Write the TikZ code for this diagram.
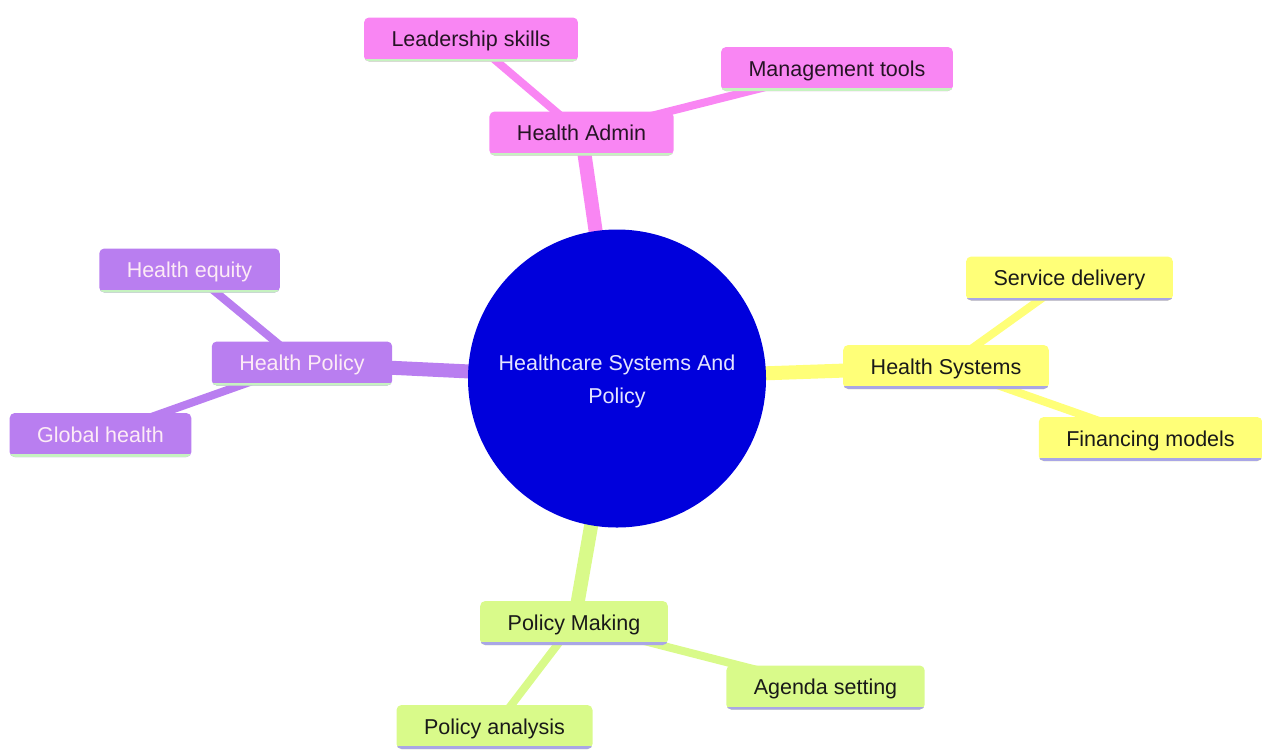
\documentclass[tikz,border=0pt]{standalone}
\usepackage{fontspec}
\setmainfont{Liberation Sans}
\usetikzlibrary{backgrounds}

\definecolor{rootblue}{HTML}{0000DC}
\definecolor{roottext}{HTML}{E4E4FF}
\definecolor{adminpink}{HTML}{F986F3}
\definecolor{policypurple}{HTML}{B97EF0}
\definecolor{systemsyellow}{HTML}{FFFF78}
\definecolor{makinggreen}{HTML}{D9FA8A}
\definecolor{edgegreen}{HTML}{C6F2C0}
\definecolor{edgelavender}{HTML}{A9A6E6}

\begin{document}
\begin{tikzpicture}[x=0.5pt, y=-0.5pt,
    txt/.style={font=\fontsize{10.75}{13}\selectfont},
    topic/.style={txt, rectangle, rounded corners=2.5pt, inner xsep=13.75pt,
        inner ysep=0pt, minimum height=22pt, text height=9.5pt,
        text depth=2.5pt, fill=#1},
    underline/.style={path picture={
        \draw[line width=3pt, #1]
            (path picture bounding box.south west) --
            (path picture bounding box.south east);}},
    pinkbox/.style={topic=adminpink, underline=edgegreen, text=black!85!adminpink},
    purplebox/.style={topic=policypurple, underline=edgegreen, text=white!92!magenta},
    yellowbox/.style={topic=systemsyellow, underline=edgelavender, text=black!90},
    greenbox/.style={topic=makinggreen, underline=edgelavender, text=black!90},
    branch/.style={line width=7pt, #1},
    twig/.style={line width=4pt, #1}]

    \useasboundingbox (0,0) rectangle (1262,751);

    % Root
    \node[circle, fill=rootblue, minimum size=149pt] (root) at (617,378.5) {};
    \node[txt, text=roottext, align=center] (roottitle)
        at ([yshift=-1.5pt]root.center) {Healthcare Systems And\\[3.5pt]Policy};

    % Health Admin
    \node[pinkbox] (admin) at (581.5,133.5) {Health Admin};
    \node[pinkbox] (lead) at (471,39.5) {Leadership skills};
    \node[pinkbox] (mgmt) at (837,69) {Management tools};

    % Health Policy
    \node[purplebox] (policy) at (302,363.5) {Health Policy};
    \node[purplebox] (equity) at (189.5,270.5) {Health equity};
    \node[purplebox] (global) at (100.5,435) {Global health};

    % Health Systems
    \node[yellowbox] (systems) at (946,367) {Health Systems};
    \node[yellowbox] (service) at (1069.5,278.5) {Service delivery};
    \node[yellowbox] (finance) at (1150.5,439) {Financing models};

    % Policy Making
    \node[greenbox] (making) at (574,623) {Policy Making};
    \node[greenbox] (agenda) at (825.5,687.5) {Agenda setting};
    \node[greenbox] (analysis) at (494.5,727) {Policy analysis};

    % Connectors behind the nodes
    \begin{pgfonlayer}{background}
        \draw[branch=adminpink] (root.center) -- (admin.center);
        \draw[branch=policypurple] (root.center) -- (policy.center);
        \draw[branch=systemsyellow] (root.center) -- (systems.center);
        \draw[branch=makinggreen] (root.center) -- (making.center);

        \foreach \leaf in {lead, mgmt}
            \draw[twig=adminpink] (admin.center) -- (\leaf.center);
        \foreach \leaf in {equity, global}
            \draw[twig=policypurple] (policy.center) -- (\leaf.center);
        \foreach \leaf in {service, finance}
            \draw[twig=systemsyellow] (systems.center) -- (\leaf.center);
        \foreach \leaf in {agenda, analysis}
            \draw[twig=makinggreen] (making.center) -- (\leaf.center);
    \end{pgfonlayer}

\end{tikzpicture}
\end{document}
